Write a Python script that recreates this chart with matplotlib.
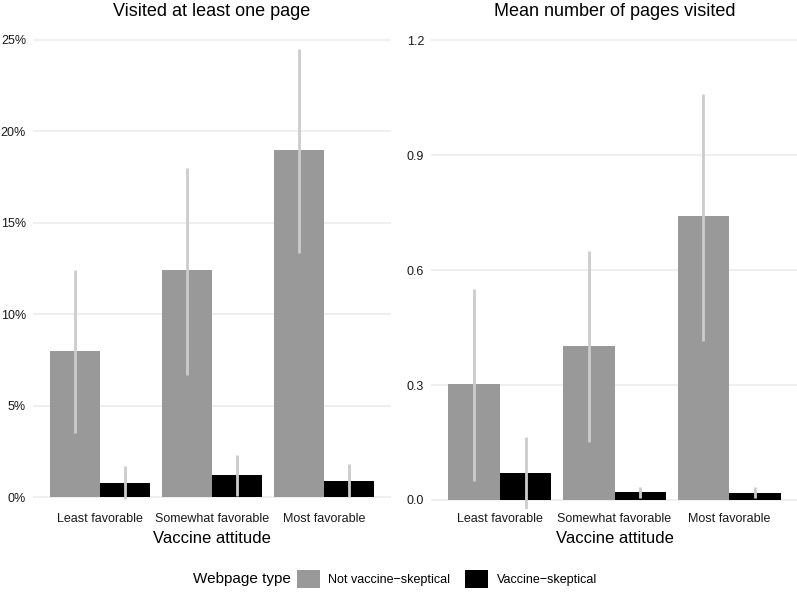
import matplotlib.pyplot as plt
from matplotlib.patches import Patch
from matplotlib.ticker import FuncFormatter
import numpy as np

plt.rcParams['font.family'] = ['Liberation Sans', 'DejaVu Sans']

attitudes = ['Least favorable', 'Somewhat favorable', 'Most favorable']
page_types = ['Not vaccine\u2212skeptical', 'Vaccine\u2212skeptical']

# Visited at least one page (%)
visited_not = [8.0, 12.4, 19.0]
visited_not_lo = [3.5, 6.7, 13.35]
visited_not_hi = [12.4, 18.0, 24.5]
visited_skep = [0.8, 1.24, 0.91]
visited_skep_lo = [-0.1, 0.07, 0.0]
visited_skep_hi = [1.7, 2.3, 1.8]

# Mean number of pages visited
mean_not = [0.303, 0.403, 0.740]
mean_not_lo = [0.05, 0.152, 0.416]
mean_not_hi = [0.551, 0.65, 1.059]
mean_skep = [0.0706, 0.021, 0.018]
mean_skep_lo = [-0.025, 0.004, 0.005]
mean_skep_hi = [0.164, 0.033, 0.033]

fill_colors = ['#999999', '#000000']
err_color = '#cccccc'

W, H = 797, 592
fig = plt.figure(figsize=(W / 100, H / 100), dpi=100)
ax1 = fig.add_axes([33 / W, 1 - 509 / H, 358 / W, 482 / H])
ax2 = fig.add_axes([431 / W, 1 - 509 / H, 367 / W, 482 / H])

x = np.arange(1, 4)
bw = 0.45

def draw_panel(ax, series, title, yticks, ylim, fmt):
    for i, (vals, lo, hi) in enumerate(series):
        xs = x + (i - 0.5) * bw
        ax.bar(xs, vals, width=bw, color=fill_colors[i], zorder=2)
        ax.vlines(xs, lo, hi, color=err_color, linewidth=2, zorder=3)
    ax.set_xlim(0.4, 3.6)
    ax.set_ylim(*ylim)
    ax.set_yticks(yticks)
    ax.yaxis.set_major_formatter(FuncFormatter(fmt))
    ax.set_xticks(x)
    ax.set_xticklabels(attitudes)
    ax.grid(axis='y', color='#ebebeb', linewidth=1.1, zorder=0)
    ax.set_axisbelow(True)
    for s in ax.spines.values():
        s.set_visible(False)
    ax.tick_params(axis='both', length=0, labelsize=9, colors='#4d4d4d', labelcolor='#1a1a1a')
    ax.tick_params(axis='y', pad=5)
    ax.tick_params(axis='x', pad=3)
    ax.set_xlabel('Vaccine attitude', fontsize=12, labelpad=4)
    ax.set_title(title, fontsize=13, pad=8)

draw_panel(ax1,
           [(visited_not, visited_not_lo, visited_not_hi),
            (visited_skep, visited_skep_lo, visited_skep_hi)],
           'Visited at least one page', [0, 5, 10, 15, 20, 25], (-0.64, 25.7),
           lambda v, p: f'{v:.0f}%')
draw_panel(ax2,
           [(mean_not, mean_not_lo, mean_not_hi),
            (mean_skep, mean_skep_lo, mean_skep_hi)],
           'Mean number of pages visited', [0.0, 0.3, 0.6, 0.9, 1.2], (-0.0235, 1.234),
           lambda v, p: f'{v:.1f}')

# legend
fig.text(193 / W, 1 - 579 / H, 'Webpage type', fontsize=11, ha='left', va='center')
handles = [Patch(facecolor=c, edgecolor='none') for c in fill_colors]
fig.legend(handles, page_types, ncol=2, loc='center left',
           bbox_to_anchor=(297 / W, 1 - 579 / H), frameon=False, fontsize=9,
           handlelength=1.8, handleheight=1.8, handletextpad=0.7,
           columnspacing=1.2, borderpad=0, borderaxespad=0)

fig.savefig('out.png', dpi=100)
